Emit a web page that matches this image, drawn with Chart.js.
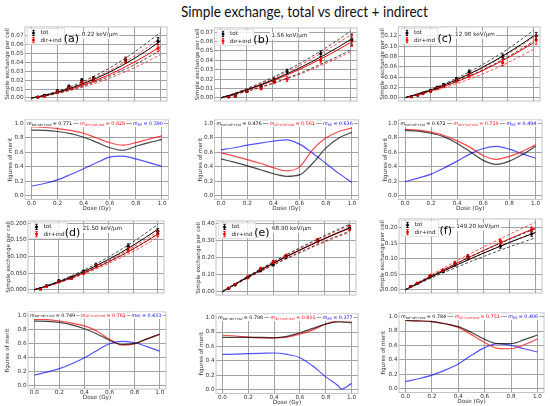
<!DOCTYPE html>
<html><head><meta charset="utf-8">
<script src="https://cdn.jsdelivr.net/npm/chart.js"></script>
<style>
html,body{margin:0;padding:0;background:#fff;}
body{width:550px;height:406px;position:relative;overflow:hidden;}
canvas{position:absolute;}
#title{position:absolute;left:181px;top:3px;font-family:Lato,'Open Sans',sans-serif;font-size:16px;line-height:16px;white-space:nowrap;color:#111;transform-origin:0 0;}
</style></head><body>
<div id="title">Simple exchange, total vs direct + indirect</div>
<script>
// ---------------- DATA ----------------
const xTicks = [0, 0.2, 0.4, 0.6, 0.8, 1.0];
const fitDose = [0, 0.1, 0.2, 0.3, 0.4, 0.5, 0.6, 0.7, 0.8, 0.9, 1.0];
const fomDose = [0, 0.1, 0.2, 0.3, 0.4, 0.5, 0.6, 0.7, 0.8, 0.9, 1.0];
const fomYTicks = [0, 0.2, 0.4, 0.6, 0.8, 1.0];
const seriesNames = ['tot', 'dir+ind'];
const meritSubs = ['tot→dir+ind', 'dir+ind→tot', 'KS'];

// (a) 0.22 keV/µm
const aDose = [0.05, 0.1, 0.2, 0.29, 0.39, 0.48, 0.73, 0.98];
const aTot = [0.001, 0.003, 0.008, 0.013, 0.020, 0.022, 0.043, 0.064];
const aTotErr = [0.0005, 0.0007, 0.001, 0.0015, 0.0018, 0.002, 0.003, 0.004];
const aDir = [0.001, 0.002, 0.007, 0.011, 0.017, 0.020, 0.042, 0.056];
const aDirErr = [0.0005, 0.0007, 0.001, 0.0015, 0.0018, 0.002, 0.003, 0.004];
const aTotFit = [0, .0028, .0064, .0108, .016, .022, .0288, .0364, .0448, .054, .064];
const aTotUp = [0, .0033, .0075, .0126, .0186, .0256, .0334, .0422, .052, .0627, .074];
const aTotLo = [0, .0024, .0054, .0091, .0134, .0185, .0242, .0306, .0376, .0454, .054];
const aDirFit = [0, .0025, .0058, .0098, .0145, .0199, .0261, .033, .0406, .0489, .058];
const aDirUp = [0, .0029, .0068, .0115, .017, .0233, .0305, .0386, .0475, .0572, .068];
const aDirLo = [0, .0021, .0049, .0083, .0123, .0168, .022, .0279, .0343, .0413, .049];
const aYTicks = [0, 0.01, 0.02, 0.03, 0.04, 0.05, 0.06, 0.07];
const aMTot = [.91, .905, .89, .86, .81, .74, .665, .63, .685, .735, .78];
const aMDir = [.955, .945, .93, .905, .865, .80, .735, .70, .735, .785, .83];
const aMKS = [.135, .17, .22, .295, .375, .46, .535, .55, .51, .46, .405];
const aMerit = [0.771, 0.828, 0.390];

// (b) 1.56 keV/µm
const bDose = [0.06, 0.11, 0.2, 0.31, 0.41, 0.51, 0.77, 1.01];
const bTot = [0.001, 0.002, 0.007, 0.012, 0.019, 0.028, 0.047, 0.062];
const bTotErr = [0.0005, 0.0008, 0.001, 0.0015, 0.002, 0.0025, 0.003, 0.006];
const bDir = [0.001, 0.002, 0.007, 0.010, 0.017, 0.020, 0.040, 0.061];
const bDirErr = [0.0005, 0.0008, 0.001, 0.0015, 0.002, 0.0025, 0.003, 0.006];
const bTotFit = [0, .004, .0086, .0136, .019, .025, .0314, .0384, .0458, .0536, .062];
const bTotUp = [0, .0046, .0098, .0156, .0218, .0286, .036, .044, .0524, .0614, .071];
const bTotLo = [0, .0033, .0071, .0112, .0156, .0205, .0257, .0315, .0376, .044, .051];
const bDirFit = [0, .0038, .0082, .0129, .0181, .0238, .0298, .0365, .0435, .0509, .059];
const bDirUp = [0, .0043, .0093, .0147, .0206, .0271, .034, .0416, .0496, .058, .067];
const bDirLo = [0, .0032, .0068, .0107, .015, .0198, .0247, .0303, .0361, .0422, .049];
const bYTicks = [0, 0.01, 0.02, 0.03, 0.04, 0.05, 0.06, 0.07];
const bMTot = [.51, .465, .415, .36, .305, .27, .29, .45, .66, .80, .88];
const bMDir = [.595, .55, .50, .45, .39, .345, .40, .64, .80, .89, .94];
const bMKS = [.635, .665, .70, .73, .755, .775, .715, .59, .45, .31, .185];
const bMerit = [0.476, 0.561, 0.636];

// (c) 12.90 keV/µm
const cDose = [0.05, 0.1, 0.14, 0.2, 0.25, 0.3, 0.4, 0.5, 0.76, 1.02];
const cTot = [0.002, 0.005, 0.009, 0.014, 0.020, 0.025, 0.036, 0.050, 0.080, 0.120];
const cTotErr = [0.001, 0.001, 0.0015, 0.002, 0.002, 0.0025, 0.003, 0.004, 0.005, 0.007];
const cDir = [0.002, 0.005, 0.008, 0.012, 0.018, 0.022, 0.033, 0.043, 0.068, 0.112];
const cDirErr = [0.001, 0.001, 0.0015, 0.002, 0.002, 0.0025, 0.003, 0.004, 0.006, 0.008];
const cTotFit = [0, .007, .015, .0242, .0346, .046, .0586, .0722, .087, .103, .12];
const cTotUp = [0, .0076, .0164, .0264, .0377, .0501, .0639, .0787, .0948, .1123, .131];
const cTotLo = [0, .0064, .0137, .0221, .0317, .0421, .0536, .0661, .0796, .0942, .11];
const cDirFit = [0, .0062, .0134, .0215, .0308, .0409, .0522, .0643, .0774, .0917, .107];
const cDirUp = [0, .0068, .0147, .0237, .0339, .045, .0574, .0707, .0851, .1009, .118];
const cDirLo = [0, .0055, .0118, .0189, .0271, .036, .0459, .0566, .0681, .0807, .094];
const cYTicks = [0, 0.02, 0.04, 0.06, 0.08, 0.10, 0.12];
const cMTot = [.905, .895, .865, .815, .725, .61, .49, .435, .48, .57, .685];
const cMDir = [.92, .91, .88, .835, .76, .67, .555, .505, .545, .615, .705];
const cMKS = [.195, .245, .30, .385, .48, .58, .655, .685, .645, .58, .52];
const cMerit = [0.672, 0.719, 0.494];

// (d) 21.50 keV/µm
const dDose = [0.05, 0.1, 0.2, 0.3, 0.4, 0.5, 0.76, 1.0];
const dTot = [0.003, 0.012, 0.027, 0.037, 0.055, 0.075, 0.131, 0.176];
const dTotErr = [0.002, 0.002, 0.003, 0.003, 0.004, 0.005, 0.007, 0.008];
const dDir = [0.002, 0.010, 0.024, 0.034, 0.050, 0.072, 0.120, 0.168];
const dDirErr = [0.002, 0.002, 0.003, 0.003, 0.004, 0.005, 0.007, 0.008];
const dTotFit = [0, .0114, .0242, .0386, .0546, .072, .091, .1114, .1334, .157, .182];
const dTotUp = [0, .0123, .0261, .0417, .059, .0778, .0983, .1203, .1441, .1696, .197];
const dTotLo = [0, .0105, .0223, .0355, .0502, .0662, .0837, .1025, .1227, .1444, .168];
const dDirFit = [0, .0105, .0222, .0354, .0501, .0661, .0835, .1023, .1225, .1441, .167];
const dDirUp = [0, .011, .0233, .0371, .0525, .0693, .0875, .1072, .1284, .151, .175];
const dDirLo = [0, .0099, .0209, .0333, .0471, .0621, .0785, .0962, .1152, .1355, .157];
const dYTicks = [0, 0.025, 0.05, 0.075, 0.1, 0.125, 0.15, 0.175, 0.2];
const dMTot = [.92, .915, .90, .865, .81, .735, .645, .585, .60, .665, .735];
const dMDir = [.945, .94, .92, .89, .85, .775, .66, .575, .595, .665, .73];
const dMKS = [.15, .19, .24, .31, .395, .50, .595, .63, .61, .555, .49];
const dMerit = [0.749, 0.762, 0.433];

// (e) 68.90 keV/µm
const eDose = [0.05, 0.1, 0.2, 0.3, 0.4, 0.5, 0.75, 1.0];
const eTot = [0.020, 0.040, 0.083, 0.125, 0.160, 0.205, 0.300, 0.375];
const eTotErr = [0.004, 0.005, 0.007, 0.008, 0.009, 0.010, 0.012, 0.014];
const eDir = [0.021, 0.043, 0.085, 0.135, 0.175, 0.210, 0.300, 0.372];
const eDirErr = [0.004, 0.005, 0.007, 0.008, 0.009, 0.010, 0.012, 0.014];
const eTotFit = [0, .0438, .0862, .1272, .1668, .205, .2418, .2772, .3112, .3438, .375];
const eTotUp = [0, .0461, .0908, .1339, .1756, .2159, .2546, .2919, .3277, .362, .395];
const eTotLo = [0, .0415, .0816, .1205, .158, .1941, .229, .2625, .2947, .3256, .355];
const eDirFit = [0, .0434, .0855, .1262, .1655, .2034, .2399, .275, .3087, .341, .372];
const eDirUp = [0, .0453, .0892, .1317, .1726, .2122, .2503, .2869, .3221, .3558, .388];
const eDirLo = [0, .0407, .0802, .1183, .1551, .1907, .2249, .2578, .2894, .3197, .348];
const eYTicks = [0, 0.05, 0.1, 0.15, 0.2, 0.25, 0.3, 0.35, 0.4];
const eMTot = [.725, .725, .725, .725, .72, .74, .79, .85, .91, .94, .93];
const eMDir = [.755, .745, .73, .72, .72, .73, .77, .83, .91, .955, .955];
const eKSDose = [0, 0.1, 0.2, 0.3, 0.4, 0.5, 0.6, 0.7, 0.8, 0.9, 0.92, 1.0];
const eMKS = [.49, .495, .50, .505, .51, .49, .445, .33, .18, .05, .01, .09];
const eMerit = [0.798, 0.801, 0.377];

// (f) 149.20 keV/µm
const fDose = [0.04, 0.09, 0.19, 0.29, 0.38, 0.48, 0.73, 0.97];
const fTot = [0.010, 0.020, 0.044, 0.060, 0.081, 0.103, 0.141, 0.181];
const fTotErr = [0.002, 0.002, 0.003, 0.004, 0.005, 0.006, 0.007, 0.008];
const fDir = [0.010, 0.021, 0.046, 0.063, 0.087, 0.108, 0.157, 0.195];
const fDirErr = [0.002, 0.002, 0.003, 0.004, 0.005, 0.006, 0.007, 0.008];
const fTotFit = [0, .0212, .0418, .0618, .0812, .1, .1182, .1358, .1528, .1692, .185];
const fTotUp = [0, .0226, .0445, .0658, .0865, .1065, .1259, .1446, .1627, .1802, .197];
const fTotLo = [0, .0192, .038, .0561, .0737, .0908, .1073, .1233, .1387, .1536, .168];
const fDirFit = [0, .0225, .0445, .0659, .0867, .107, .1266, .1459, .1645, .1825, .2];
const fDirUp = [0, .0245, .0485, .0718, .0945, .1166, .138, .159, .1793, .1989, .218];
const fDirLo = [0, .0209, .0414, .0613, .0806, .0995, .1177, .1357, .153, .1697, .186];
const fYTicks = [0, 0.05, 0.1, 0.15, 0.2];
const fMTot = [.945, .94, .93, .90, .86, .78, .685, .625, .625, .68, .745];
const fMDir = [.945, .94, .93, .90, .85, .75, .64, .56, .555, .61, .69];
const fMKS = [.10, .14, .19, .26, .345, .465, .57, .625, .60, .555, .51];
const fMerit = [0.784, 0.751, 0.406];

const panels = [
  {letter:'(a)', kev:'0.22 keV/μm', dose:aDose, tot:aTot, totErr:aTotErr, dir:aDir, dirErr:aDirErr,
   fits:[aTotUp,aTotFit,aTotLo,aDirUp,aDirFit,aDirLo], yTicks:aYTicks, yDec:2,
   mTot:aMTot, mDir:aMDir, mKS:aMKS, ksDose:fomDose, merit:aMerit},
  {letter:'(b)', kev:'1.56 keV/μm', dose:bDose, tot:bTot, totErr:bTotErr, dir:bDir, dirErr:bDirErr,
   fits:[bTotUp,bTotFit,bTotLo,bDirUp,bDirFit,bDirLo], yTicks:bYTicks, yDec:2,
   mTot:bMTot, mDir:bMDir, mKS:bMKS, ksDose:fomDose, merit:bMerit},
  {letter:'(c)', kev:'12.90 keV/μm', dose:cDose, tot:cTot, totErr:cTotErr, dir:cDir, dirErr:cDirErr,
   fits:[cTotUp,cTotFit,cTotLo,cDirUp,cDirFit,cDirLo], yTicks:cYTicks, yDec:2,
   mTot:cMTot, mDir:cMDir, mKS:cMKS, ksDose:fomDose, merit:cMerit},
  {letter:'(d)', kev:'21.50 keV/μm', dose:dDose, tot:dTot, totErr:dTotErr, dir:dDir, dirErr:dDirErr,
   fits:[dTotUp,dTotFit,dTotLo,dDirUp,dDirFit,dDirLo], yTicks:dYTicks, yDec:3,
   mTot:dMTot, mDir:dMDir, mKS:dMKS, ksDose:fomDose, merit:dMerit},
  {letter:'(e)', kev:'68.90 keV/μm', dose:eDose, tot:eTot, totErr:eTotErr, dir:eDir, dirErr:eDirErr,
   fits:[eTotUp,eTotFit,eTotLo,eDirUp,eDirFit,eDirLo], yTicks:eYTicks, yDec:2,
   mTot:eMTot, mDir:eMDir, mKS:eMKS, ksDose:eKSDose, merit:eMerit},
  {letter:'(f)', kev:'149.20 keV/μm', dose:fDose, tot:fTot, totErr:fTotErr, dir:fDir, dirErr:fDirErr,
   fits:[fTotUp,fTotFit,fTotLo,fDirUp,fDirFit,fDirLo], yTicks:fYTicks, yDec:2,
   mTot:fMTot, mDir:fMDir, mKS:fMKS, ksDose:fomDose, merit:fMerit}
];

// ---------------- LAYOUT (positions & styles) ----------------
const topBoxes = [
  {L:25, R:168.5, T:24.5, B:106, tx:7, ymin:-0.0035, ymax:0.080},
  {L:214.5, R:358.5, T:25.4, B:105.3, tx:197, ymin:-0.0035, ymax:0.0745},
  {L:398.5, R:542, T:24.3, B:106, tx:382, ymin:-0.0066, ymax:0.1376},
  {L:28, R:166, T:218, B:298, tx:8, ymin:-0.01, ymax:0.207},
  {L:216, R:358, T:218, B:299.4, tx:198, ymin:-0.02, ymax:0.415},
  {L:399, R:544, T:216, B:298, tx:382, ymin:-0.011, ymax:0.229}
];
const botBoxes = [
  {L:25, R:168.5, T:117.3, B:199.4, tx:10},
  {L:214.5, R:358.5, T:117.3, B:199.4, tx:200},
  {L:398.5, R:542, T:117.3, B:199.4, tx:385},
  {L:28, R:166, T:309.5, B:389, tx:7},
  {L:216, R:358, T:311, B:393.5, tx:201},
  {L:399, R:544, T:310.5, B:392.5, tx:383}
];
const FONT = "'DejaVu Sans', sans-serif";
const FS = 5.7;
const GRID = '#a2a2a2';
const FRAME = '#c4c4c4';

Chart.defaults.font.family = FONT;
Chart.defaults.font.size = FS;
Chart.defaults.color = '#333';
Chart.defaults.animation = false;

// ---------------- PLUGINS ----------------
const errPlugin = {
  id: 'errbars',
  afterDatasetsDraw(chart) {
    const ctx = chart.ctx, ys = chart.scales.y;
    chart.data.datasets.forEach((ds, i) => {
      if (!ds.errs) return;
      const meta = chart.getDatasetMeta(i);
      ctx.save();
      ctx.strokeStyle = ds.borderColor; ctx.lineWidth = 0.9;
      meta.data.forEach((pt, j) => {
        const v = ds.data[j].y, e = ds.errs[j];
        const y1 = ys.getPixelForValue(v - e), y2 = ys.getPixelForValue(v + e);
        ctx.beginPath();
        ctx.moveTo(pt.x, y1); ctx.lineTo(pt.x, y2);
        ctx.moveTo(pt.x - 1.3, y1); ctx.lineTo(pt.x + 1.3, y1);
        ctx.moveTo(pt.x - 1.3, y2); ctx.lineTo(pt.x + 1.3, y2);
        ctx.stroke();
      });
      ctx.restore();
    });
  }
};

function frame(chart) {
  const a = chart.chartArea, ctx = chart.ctx;
  ctx.save(); ctx.strokeStyle = FRAME; ctx.lineWidth = 1;
  ctx.strokeRect(a.left, a.top, a.right - a.left, a.bottom - a.top);
  ctx.restore();
}

const topDeco = {
  id: 'topDeco',
  afterDraw(chart) {
    const o = chart.options.plugins.topDeco; if (!o) return;
    const a = chart.chartArea, ctx = chart.ctx, xs = chart.scales.x;
    frame(chart);
    ctx.save();
    ctx.font = FS + 'px ' + FONT; ctx.textBaseline = 'middle'; ctx.textAlign = 'left';
    const kx = xs.getPixelForValue(0.39), ky = a.top + 8;
    const kw = ctx.measureText(o.kev).width;
    ctx.fillStyle = '#fff'; ctx.fillRect(kx - 1.5, ky - 3.8, kw + 3, 7.6);
    ctx.fillStyle = '#222'; ctx.fillText(o.kev, kx, ky);
    const lx = a.left + 2.5, ly = a.top + 1.5;
    ctx.fillStyle = 'rgba(255,255,255,0.85)'; ctx.strokeStyle = '#d0d0d0'; ctx.lineWidth = 0.6;
    ctx.beginPath(); ctx.rect(lx, ly, 37, 16); ctx.fill(); ctx.stroke();
    const cols = ['#000', '#ff0000'];
    o.names.forEach((n, k) => {
      const yy = ly + 4.5 + k * 7.2, mx = lx + 6;
      ctx.strokeStyle = cols[k]; ctx.fillStyle = cols[k]; ctx.lineWidth = 0.9;
      ctx.beginPath(); ctx.moveTo(mx, yy - 2.6); ctx.lineTo(mx, yy + 2.6);
      ctx.moveTo(mx - 1.2, yy - 2.6); ctx.lineTo(mx + 1.2, yy - 2.6);
      ctx.moveTo(mx - 1.2, yy + 2.6); ctx.lineTo(mx + 1.2, yy + 2.6); ctx.stroke();
      ctx.beginPath(); ctx.arc(mx, yy, 1.5, 0, Math.PI * 2); ctx.fill();
      ctx.fillStyle = '#222'; ctx.font = FS + 'px ' + FONT;
      ctx.fillText(n, lx + 13, yy);
    });
    ctx.font = '11px ' + FONT; ctx.fillStyle = '#000'; ctx.textAlign = 'center';
    ctx.fillText(o.letter, xs.getPixelForValue(0.31), a.top + 12.5);
    ctx.restore();
  }
};

const M_MAIN = '4.8px ' + FONT, M_IT = 'italic 4.8px ' + FONT, M_SUB = 'italic 3.3px ' + FONT;
function meritWidth(ctx, sub, val) {
  ctx.font = M_IT; const w1 = ctx.measureText('m').width;
  ctx.font = M_SUB; const w2 = ctx.measureText(sub).width;
  ctx.font = M_MAIN; const w3 = ctx.measureText(' = ' + val.toFixed(3)).width;
  return [w1, w2, w3];
}
function meritText(ctx, x, y, color, sub, val) {
  const [w1, w2, w3] = meritWidth(ctx, sub, val);
  ctx.fillStyle = '#fff'; ctx.fillRect(x - 1.2, y - 3.5, w1 + w2 + w3 + 2.4, 7);
  ctx.fillStyle = color; ctx.textBaseline = 'middle'; ctx.textAlign = 'left';
  ctx.font = M_IT; ctx.fillText('m', x, y);
  ctx.font = M_SUB; ctx.fillText(sub, x + w1, y + 1.2);
  ctx.font = M_MAIN; ctx.fillText(' = ' + val.toFixed(3), x + w1 + w2, y);
}

const botDeco = {
  id: 'botDeco',
  afterDraw(chart) {
    const o = chart.options.plugins.botDeco; if (!o) return;
    const a = chart.chartArea, ctx = chart.ctx;
    frame(chart);
    const y = chart.scales.y.getPixelForValue(1.0);
    const cols = ['#000', '#ff0000', '#0000ff'];
    ctx.save();
    const widths = o.merit.map((v, k) => meritWidth(ctx, o.subs[k], v).reduce((s, q) => s + q, 0));
    const avail = (a.right - a.left) - 4.5;
    const gap = Math.max(3, (avail - widths.reduce((s, q) => s + q, 0)) / 2.4);
    let x = a.left + 2;
    o.merit.forEach((v, k) => {
      meritText(ctx, x, y, cols[k], o.subs[k], v);
      x += widths[k] + gap;
    });
    ctx.restore();
  }
};

// ---------------- BUILD ----------------
function pts(xs, ys) { return xs.map((x, i) => ({x: x, y: ys[i]})); }

function makeCanvas(cl, ct, w, h) {
  const c = document.createElement('canvas');
  c.width = w; c.height = h;
  c.style.left = cl + 'px'; c.style.top = ct + 'px';
  c.style.width = w + 'px'; c.style.height = h + 'px';
  document.body.appendChild(c);
  return c;
}

function scales(box, yTicks, yDec, yTitle, xH, showX) {
  const cl = Math.round(box.tx - FS * 0.6);
  return {
    x: {
      type: 'linear', min: -0.05, max: 1.05,
      afterBuildTicks: s => { s.ticks = xTicks.map(v => ({value: v})); },
      afterFit: s => { s.height = xH; },
      grid: {color: GRID, lineWidth: 1, drawTicks: false},
      border: {display: false},
      ticks: {display: showX, padding: 0.5, callback: v => Number(v).toFixed(1), color: '#333'},
      title: {display: showX, text: 'Dose (Gy)', padding: 0, font: {size: FS}, color: '#333'}
    },
    y: {
      type: 'linear', min: box.ymin, max: box.ymax,
      afterBuildTicks: s => { s.ticks = yTicks.map(v => ({value: v})); },
      afterFit: s => { s.width = box.L - cl; },
      grid: {color: GRID, lineWidth: 1, drawTicks: false},
      border: {display: false},
      ticks: {padding: 1.5, callback: v => Number(v).toFixed(yDec), color: '#333'},
      title: {display: true, text: yTitle, padding: 0, font: {size: FS}, color: '#333'}
    }
  };
}

panels.forEach((p, idx) => {
  const tb = topBoxes[idx];
  let cl = Math.round(tb.tx - FS * 0.6), ct = Math.floor(tb.T - 2);
  let w = Math.ceil(tb.R + 2 - cl), h = Math.ceil(tb.B - ct);
  let cv = makeCanvas(cl, ct, w, h);
  const fitCols = ['#222', '#000', '#222', '#ff2a2a', '#ff0000', '#ff2a2a'];
  const fitDash = [[3, 2], [], [3, 2], [3, 2], [], [3, 2]];
  const ds = p.fits.map((arr, k) => ({
    data: pts(fitDose, arr), borderColor: fitCols[k], borderWidth: k % 3 === 1 ? 1 : 0.8,
    borderDash: fitDash[k], pointRadius: 0, cubicInterpolationMode: 'monotone', fill: false
  }));
  ds.push({label: seriesNames[0], data: pts(p.dose, p.tot), errs: p.totErr, showLine: false,
    borderColor: '#000', backgroundColor: '#000', pointRadius: 1.6, pointBorderWidth: 0});
  ds.push({label: seriesNames[1], data: pts(p.dose, p.dir), errs: p.dirErr, showLine: false,
    borderColor: '#ff0000', backgroundColor: '#ff0000', pointRadius: 1.6, pointBorderWidth: 0});
  new Chart(cv, {
    type: 'line',
    data: {datasets: ds},
    options: {
      responsive: false, devicePixelRatio: 1,
      layout: {padding: {left: 0, top: tb.T - ct, right: cl + w - tb.R, bottom: 0}},
      scales: scales(tb, p.yTicks, p.yDec, 'Simple exchange per cell', 0, false),
      plugins: {legend: {display: false}, tooltip: {enabled: false},
        topDeco: {letter: p.letter, kev: p.kev, names: seriesNames}}
    },
    plugins: [errPlugin, topDeco]
  });

  const bb = Object.assign({ymin: -0.05, ymax: 1.05}, botBoxes[idx]);
  cl = Math.round(bb.tx - FS * 0.6); ct = Math.floor(bb.T - 2);
  w = Math.ceil(bb.R + 2 - cl); h = Math.ceil(bb.B + 12 - ct);
  cv = makeCanvas(cl, ct, w, h);
  const curves = [
    {data: pts(fomDose, p.mTot), borderColor: 'rgba(0,0,0,0.72)'},
    {data: pts(fomDose, p.mDir), borderColor: 'rgba(255,0,0,0.72)'},
    {data: pts(p.ksDose, p.mKS), borderColor: 'rgba(0,0,255,0.68)'}
  ].map(c => Object.assign(c, {borderWidth: 1.2, pointRadius: 0, cubicInterpolationMode: 'monotone', fill: false}));
  new Chart(cv, {
    type: 'line',
    data: {datasets: curves},
    options: {
      responsive: false, devicePixelRatio: 1,
      layout: {padding: {left: 0, top: bb.T - ct, right: cl + w - bb.R, bottom: 0}},
      scales: scales(bb, fomYTicks, 1, 'figures of merit', h - (bb.B - ct), true),
      plugins: {legend: {display: false}, tooltip: {enabled: false},
        botDeco: {merit: p.merit, subs: meritSubs}}
    },
    plugins: [botDeco]
  });
});

(function () {
  const t = document.getElementById('title');
  const wNow = t.getBoundingClientRect().width;
  t.style.transform = 'scaleX(' + (247 / wNow) + ')';
})();
</script>
</body></html>
